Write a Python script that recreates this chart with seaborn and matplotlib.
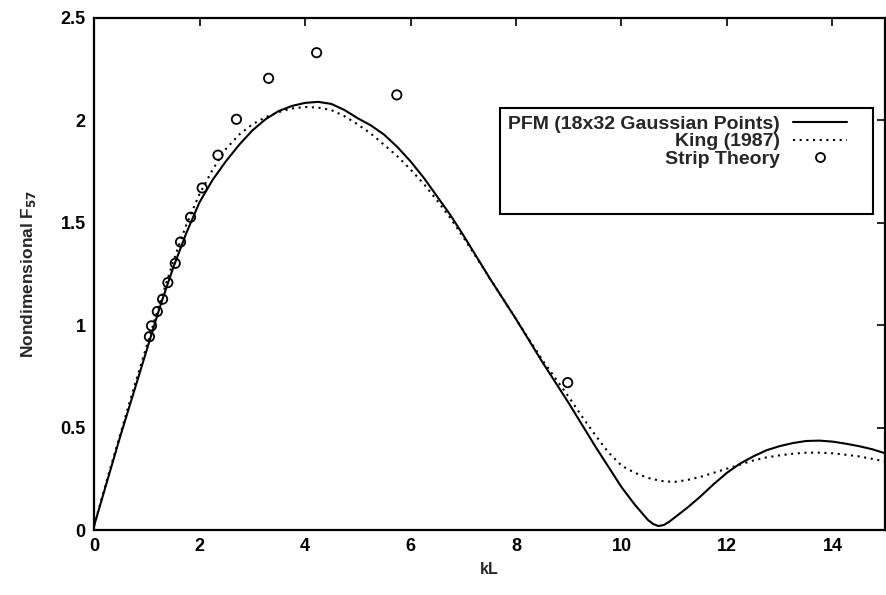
import numpy as np
import pandas as pd
import seaborn as sns
import matplotlib.pyplot as plt
from matplotlib.lines import Line2D
from matplotlib.patches import Rectangle
from matplotlib.ticker import FuncFormatter

# ---- PFM (18x32 Gaussian Points), solid line ----
pfm_kl = [0.0, 0.25, 0.5, 0.75, 1.0, 1.25, 1.5, 1.75, 2.0, 2.25, 2.5, 2.75,
          3.0, 3.25, 3.5, 3.75, 4.0, 4.25, 4.5, 4.75, 5.0, 5.25, 5.5, 5.75,
          6.0, 6.25, 6.5, 6.75, 7.0, 7.25, 7.5, 7.75, 8.0, 8.25, 8.5, 8.75,
          9.0, 9.25, 9.5, 9.75, 10.0, 10.25, 10.5, 10.6, 10.7, 10.8, 10.9,
          11.0, 11.25, 11.5, 11.75, 12.0, 12.25, 12.5, 12.75, 13.0, 13.25,
          13.5, 13.75, 14.0, 14.25, 14.5, 14.75, 15.0]
pfm_f57 = [0.02, 0.24, 0.46, 0.67, 0.88, 1.09, 1.28, 1.45, 1.60, 1.71, 1.80,
           1.88, 1.95, 2.005, 2.045, 2.07, 2.085, 2.09, 2.08, 2.05, 2.01,
           1.975, 1.93, 1.87, 1.80, 1.72, 1.63, 1.54, 1.44, 1.335, 1.23,
           1.13, 1.03, 0.925, 0.82, 0.72, 0.62, 0.515, 0.41, 0.31, 0.21,
           0.125, 0.05, 0.03, 0.02, 0.025, 0.04, 0.06, 0.11, 0.165, 0.225,
           0.28, 0.325, 0.36, 0.39, 0.41, 0.425, 0.435, 0.437, 0.432, 0.422,
           0.41, 0.395, 0.375]

# ---- King (1987), dotted line ----
king_kl = [0.0, 0.25, 0.5, 0.75, 1.0, 1.25, 1.5, 1.75, 2.0, 2.25, 2.5, 2.75,
           3.0, 3.25, 3.5, 3.75, 4.0, 4.25, 4.5, 4.75, 5.0, 5.25, 5.5, 5.75,
           6.0, 6.25, 6.5, 6.75, 7.0, 7.25, 7.5, 7.75, 8.0, 8.25, 8.5, 8.75,
           9.0, 9.25, 9.5, 9.75, 10.0, 10.25, 10.5, 10.75, 11.0, 11.25, 11.5,
           11.75, 12.0, 12.25, 12.5, 12.75, 13.0, 13.25, 13.5, 13.75, 14.0,
           14.25, 14.5, 14.75, 15.0]
king_f57 = [0.02, 0.25, 0.47, 0.69, 0.90, 1.11, 1.31, 1.49, 1.64, 1.76, 1.86,
            1.93, 1.98, 2.015, 2.04, 2.058, 2.065, 2.062, 2.05, 2.02, 1.98,
            1.935, 1.88, 1.825, 1.76, 1.69, 1.61, 1.525, 1.43, 1.33, 1.23,
            1.13, 1.03, 0.93, 0.83, 0.74, 0.65, 0.555, 0.465, 0.38, 0.315,
            0.28, 0.255, 0.24, 0.235, 0.245, 0.26, 0.28, 0.30, 0.32, 0.34,
            0.355, 0.365, 0.373, 0.378, 0.378, 0.375, 0.368, 0.36, 0.348,
            0.335]

# ---- Strip theory, open circles ----
strip_kl = [1.05, 1.09, 1.20, 1.30, 1.40, 1.54, 1.64, 1.83, 2.05, 2.35, 2.70,
            3.31, 4.22, 5.74, 8.98]
strip_f57 = [0.944, 0.997, 1.067, 1.127, 1.208, 1.302, 1.406, 1.527, 1.67,
             1.83, 2.005, 2.205, 2.33, 2.124, 0.72]

sns.set_theme(style="white")
plt.rcParams['font.family'] = ['Liberation Sans', 'DejaVu Sans']
plt.rcParams['font.weight'] = 'bold'

fig = plt.figure(figsize=(8.87, 5.95), dpi=100)
ax = fig.add_axes([0.106, 0.109, 0.892, 0.861])

dots = (0, (1, 2.2))
sns.lineplot(x=pfm_kl, y=pfm_f57, ax=ax, color="black", linewidth=1.5,
             sort=False)
sns.lineplot(x=king_kl, y=king_f57, ax=ax, color="black", linewidth=1.5,
             linestyle=dots, sort=False)
sns.scatterplot(x=strip_kl, y=strip_f57, ax=ax, marker="o", s=45,
                facecolor="none", edgecolor="black", linewidth=1.3)

ax.set_xlim(0, 15)
ax.set_ylim(0, 2.5)
ax.set_xticks([0, 2, 4, 6, 8, 10, 12, 14])
ax.set_yticks([0, 0.5, 1, 1.5, 2, 2.5])
ax.yaxis.set_major_formatter(FuncFormatter(lambda v, p: f"{v:g}"))
ax.tick_params(direction="in", top=True, right=True, length=6, width=1.2,
               labelsize=13, pad=6, colors="black")
for s in ax.spines.values():
    s.set_linewidth(1.6)
    s.set_color("black")

ax.set_xlabel("kL", fontsize=11.5, fontweight="bold", labelpad=5)
ax.set_ylabel("Nondimensional F$_{57}$", fontsize=12.5, fontweight="bold",
              labelpad=16)

# legend box (gnuplot style: labels right-aligned, keys on the right)
ax.add_patch(Rectangle((0.513, 0.617), 0.471, 0.207, transform=ax.transAxes,
                       fill=False, edgecolor="black", linewidth=1.5,
                       zorder=4))
handles = [
    Line2D([], [], color="black", linewidth=1.5),
    Line2D([], [], color="black", linewidth=1.5, linestyle=dots),
    Line2D([], [], color="black", marker="o", markersize=6.5,
           markerfacecolor="none", markeredgewidth=1.3, linestyle="none"),
]
labels = ["PFM (18x32 Gaussian Points)", "King (1987)", "Strip Theory"]
leg = ax.legend(handles, labels, loc="upper right",
                bbox_to_anchor=(0.952, 0.810), borderaxespad=0,
                markerfirst=False, frameon=False, handlelength=2.8,
                handletextpad=0.65, labelspacing=0.0, borderpad=0,
                prop={"size": 14, "weight": "bold"})

plt.savefig("out.png", dpi=100)
